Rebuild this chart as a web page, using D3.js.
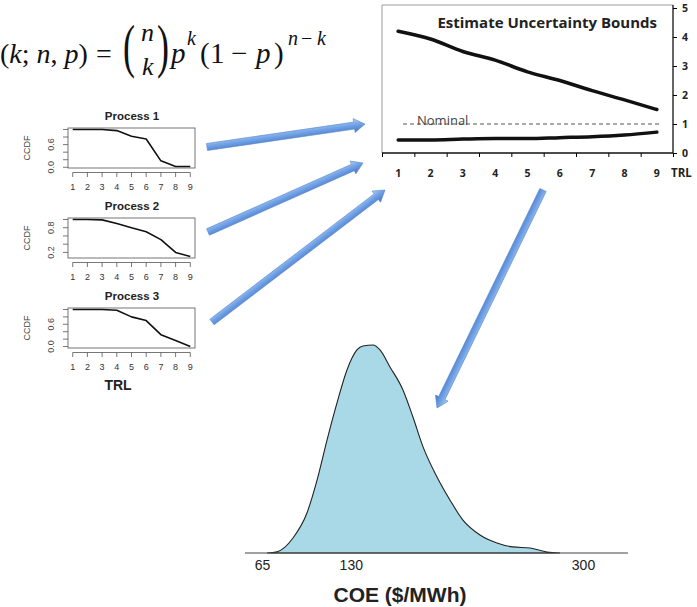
<!DOCTYPE html>
<html>
<head>
<meta charset="utf-8">
<script src="https://cdn.jsdelivr.net/npm/d3@7"></script>
<style>
  body { margin: 0; background: #fff; }
  svg { display: block; }
</style>
</head>
<body>
<svg id="fig" width="697" height="607"></svg>
<script>
// ---- data ----
var trl = [1, 2, 3, 4, 5, 6, 7, 8, 9];

var processNames = ["Process 1", "Process 2", "Process 3"];
var process1 = [1.0, 1.0, 1.0, 0.97, 0.82, 0.75, 0.17, 0.02, 0.02];
var process2 = [1.0, 1.0, 0.99, 0.90, 0.80, 0.70, 0.51, 0.20, 0.10];
var process3 = [1.0, 1.0, 1.0, 0.98, 0.80, 0.70, 0.32, 0.16, 0.0];
var ccdfLabels = [[0, 0.6], [0.2, 0.8], [0, 0.6]];

var upperBound = [4.2, 3.93, 3.5, 3.2, 2.8, 2.5, 2.15, 1.83, 1.5];
var lowerBound = [0.45, 0.45, 0.48, 0.5, 0.5, 0.53, 0.56, 0.62, 0.72];
var nominal = 1;
var boundTicks = [0, 1, 2, 3, 4, 5];

var coe = [68.7, 76, 87.7, 97.9, 105.3, 112.6, 119.9, 127.2, 134.5, 138.9, 146.3, 151.4,
           158.7, 168.2, 175.5, 182.9, 193.1, 202.6, 212.1, 224.6, 237, 248.7, 261.2, 273.6, 283.2];
var density = [0, 0.00008, 0.00094, 0.00250, 0.00456, 0.00706, 0.00938, 0.01144, 0.01269, 0.01294,
               0.01300, 0.01269, 0.01163, 0.01019, 0.00850, 0.00663, 0.00475, 0.00331, 0.00206,
               0.00113, 0.00063, 0.00038, 0.00031, 0.00006, 0];
var coeTicks = [65, 130, 300];

var svg = d3.select("#fig");
var sans = "'Liberation Sans', Arial, sans-serif";
var calibri = "'Open Sans', Lato, sans-serif";

// ---- arrow gradient ----
var grad = svg.append("defs").append("linearGradient")
    .attr("id", "arrowGrad")
    .attr("x1", 0).attr("y1", 0).attr("x2", 0).attr("y2", 1);
grad.append("stop").attr("offset", 0).attr("stop-color", "#b3d0f5");
grad.append("stop").attr("offset", 0.45).attr("stop-color", "#72a3e6");
grad.append("stop").attr("offset", 1).attr("stop-color", "#4575c4");

// ---- binomial formula ----
var eq = svg.append("g")
    .attr("font-family", "'Liberation Serif', 'Times New Roman', serif")
    .attr("fill", "#111");

function piece(txt, x, y, size, italic) {
    eq.append("text").attr("x", x).attr("y", y).attr("font-size", size)
        .attr("font-style", italic ? "italic" : "normal").text(txt);
}

var lhs = eq.append("text").attr("x", 0).attr("y", 63).attr("font-size", 28);
[["(", 0], ["k", 1], ["; ", 0], ["n", 1], [", ", 0], ["p", 1], [")", 0]].forEach(function(p) {
    lhs.append("tspan").attr("font-style", p[1] ? "italic" : "normal").text(p[0]);
});
piece("=", 96, 63, 28, false);

eq.append("text").attr("transform", "translate(123,66) scale(0.6,1)").attr("font-size", 60).text("(");
eq.append("text").attr("transform", "translate(157,66) scale(0.6,1)").attr("font-size", 60).text(")");
piece("n", 141, 41, 26, true);
piece("k", 142, 75, 26, true);

piece("p", 171, 63, 29, true);
piece("k", 187, 45, 20, true);

piece("(", 200, 63, 29, false);
piece("1", 210, 63, 29, false);
piece("\u2212", 231, 63, 29, false);
piece("p", 256, 63, 29, true);
piece(")", 274, 63, 29, false);

piece("n", 288, 45, 20, true);
piece("\u2212", 301, 45, 20, false);
piece("k", 317, 45, 20, true);

// ---- small CCDF panels ----
var series = [process1, process2, process3];
var panelLeft = 68, panelRight = 195, panelH = 40;

series.forEach(function(vals, i) {
    var top = 128 + i * 90, bottom = top + panelH;
    var g = svg.append("g").attr("font-family", sans).attr("fill", "#222");

    var x = d3.scaleLinear().domain([1 - 0.32, 9 + 0.32]).range([panelLeft, panelRight]);
    var lo = d3.min(vals), hi = d3.max(vals), pad = (hi - lo) * 0.04;
    var y = d3.scaleLinear().domain([lo - pad, hi + pad]).range([bottom, top]);

    g.append("text")
        .attr("x", 132).attr("y", top - 8)
        .attr("text-anchor", "middle")
        .attr("font-size", 11.5).attr("font-weight", "bold")
        .text(processNames[i]);

    g.append("rect")
        .attr("x", panelLeft).attr("y", top)
        .attr("width", panelRight - panelLeft).attr("height", panelH)
        .attr("fill", "none").attr("stroke", "#666").attr("stroke-width", 0.9);

    // y ticks every 0.2, labels only where R kept them
    var yt = d3.range(0, 1.001, 0.2).filter(function(v) { return v >= y.domain()[0] && v <= y.domain()[1]; });
    g.selectAll("line.ytick").data(yt).enter().append("line")
        .attr("x1", panelLeft - 5).attr("x2", panelLeft)
        .attr("y1", function(d) { return y(d); }).attr("y2", function(d) { return y(d); })
        .attr("stroke", "#555").attr("stroke-width", 0.8);
    g.selectAll("text.ylab").data(ccdfLabels[i]).enter().append("text")
        .attr("transform", function(d) { return "translate(54," + y(d) + ") rotate(-90)"; })
        .attr("text-anchor", "middle").attr("font-size", 9).attr("fill", "#444")
        .text(function(d) { return d3.format(".1f")(d); });

    g.append("text")
        .attr("transform", "translate(30," + (top + panelH / 2) + ") rotate(-90)")
        .attr("text-anchor", "middle").attr("font-size", 9).attr("fill", "#444")
        .text("CCDF");

    // x axis sits a little below the box
    var ay = bottom + 4.5;
    g.append("line").attr("x1", x(1)).attr("x2", x(9)).attr("y1", ay).attr("y2", ay)
        .attr("stroke", "#555").attr("stroke-width", 0.8);
    g.selectAll("line.xtick").data(trl).enter().append("line")
        .attr("x1", function(d) { return x(d); }).attr("x2", function(d) { return x(d); })
        .attr("y1", ay).attr("y2", ay + 4.5)
        .attr("stroke", "#555").attr("stroke-width", 0.8);
    g.selectAll("text.xlab").data(trl).enter().append("text")
        .attr("x", function(d) { return x(d); }).attr("y", bottom + 22)
        .attr("text-anchor", "middle").attr("font-size", 9).attr("fill", "#333")
        .text(function(d) { return d; });

    g.append("path")
        .datum(vals)
        .attr("fill", "none").attr("stroke", "#111").attr("stroke-width", 1.6)
        .attr("stroke-linejoin", "round")
        .attr("d", d3.line().x(function(d, j) { return x(trl[j]); }).y(function(d) { return y(d); }));
});

svg.append("text")
    .attr("x", 118).attr("y", 390)
    .attr("text-anchor", "middle")
    .attr("font-family", sans).attr("font-size", 14).attr("font-weight", "bold").attr("fill", "#222")
    .text("TRL");

// ---- uncertainty bounds panel ----
var ub = svg.append("g").attr("font-family", calibri);
var bx = d3.scaleLinear().domain([0.5, 9.5]).range([382, 673]);
var by = d3.scaleLinear().domain([0, 5]).range([153, 8]);

ub.append("path")
    .attr("d", "M673,5H382V153")
    .attr("fill", "none").attr("stroke", "#9a9a9a").attr("stroke-width", 1);

var rightAxis = ub.append("g").attr("transform", "translate(673,0)")
    .call(d3.axisRight(by).tickValues(boundTicks).tickFormat(d3.format("d")).tickSize(4).tickPadding(5));
rightAxis.select(".domain").attr("d", "M0,5V153").attr("stroke", "#111").attr("stroke-width", 1.3);
rightAxis.selectAll("text").attr("font-family", calibri).attr("font-size", 10.5)
    .attr("font-weight", "bold").attr("fill", "#222");

var bottomAxis = ub.append("g").attr("transform", "translate(0,153)")
    .call(d3.axisBottom(bx).tickValues(d3.range(0.5, 9.6, 1)).tickSize(4).tickFormat(""));
bottomAxis.select(".domain").attr("d", "M382,0H673").attr("stroke", "#111").attr("stroke-width", 1.3);

ub.selectAll("text.trl").data(trl).enter().append("text")
    .attr("x", function(d) { return bx(d); }).attr("y", 177)
    .attr("text-anchor", "middle").attr("font-size", 10.5).attr("font-weight", "bold").attr("fill", "#222")
    .text(function(d) { return d; });
ub.append("text").attr("x", 671).attr("y", 177)
    .attr("font-size", 11.5).attr("font-weight", "bold").attr("fill", "#222").text("TRL");

ub.append("text")
    .attr("x", 657).attr("y", 28).attr("text-anchor", "end")
    .attr("font-size", 15).attr("font-weight", "bold").attr("fill", "#222")
    .text("Estimate Uncertainty Bounds");

ub.append("line")
    .attr("x1", bx(1.15)).attr("x2", bx(9.1))
    .attr("y1", by(nominal)).attr("y2", by(nominal))
    .attr("stroke", "#555").attr("stroke-width", 1).attr("stroke-dasharray", "4,3");
ub.append("text")
    .attr("x", 417).attr("y", by(nominal) + 1)
    .attr("font-size", 13).attr("fill", "#444").text("Nominal");

var boundLine = d3.line()
    .x(function(d, j) { return bx(trl[j]); })
    .y(function(d) { return by(d); })
    .curve(d3.curveMonotoneX);
[upperBound, lowerBound].forEach(function(s) {
    ub.append("path").datum(s)
        .attr("fill", "none").attr("stroke", "#111").attr("stroke-width", 3.5)
        .attr("stroke-linecap", "round")
        .attr("d", boundLine);
});

// ---- COE density ----
var cx = d3.scaleLinear().domain([65, 300]).range([262, 583]);
var cy = d3.scaleLinear().domain([0, 0.013]).range([553, 345]);
var pts = coe.map(function(c, j) { return [c, density[j]]; });

svg.append("path").datum(pts)
    .attr("fill", "#a9d8e6")
    .attr("stroke", "#222").attr("stroke-width", 1.1)
    .attr("d", d3.area()
        .x(function(d) { return cx(d[0]); })
        .y0(cy(0))
        .y1(function(d) { return cy(d[1]); })
        .curve(d3.curveMonotoneX));

svg.append("line")
    .attr("x1", 245).attr("x2", 628)
    .attr("y1", cy(0)).attr("y2", cy(0))
    .attr("stroke", "#444").attr("stroke-width", 1.2);

var coeAxis = svg.append("g").attr("transform", "translate(0," + cy(0) + ")")
    .call(d3.axisBottom(cx).tickValues(coeTicks).tickSize(0).tickPadding(7));
coeAxis.select(".domain").remove();
coeAxis.selectAll("text").attr("font-family", sans).attr("font-size", 14).attr("fill", "#222");

svg.append("text")
    .attr("x", 400).attr("y", 602).attr("text-anchor", "middle")
    .attr("font-family", sans).attr("font-size", 21).attr("font-weight", "bold").attr("fill", "#222")
    .text("COE ($/MWh)");

// ---- blue arrows ----
var arrows = [
    [207, 147, 365, 124],
    [208, 232, 363, 163],
    [212, 322, 385, 190],
    [543, 190, 437, 408]
];
arrows.forEach(function(a) {
    var dx = a[2] - a[0], dy = a[3] - a[1];
    var len = Math.sqrt(dx * dx + dy * dy);
    var ang = Math.atan2(dy, dx) * 180 / Math.PI;
    var hw = 3.5, hh = 7, hl = 11;
    var shape = [[0, -hw], [len - hl, -hw], [len - hl, -hh], [len, 0], [len - hl, hh], [len - hl, hw], [0, hw]];
    svg.append("path")
        .attr("transform", "translate(" + a[0] + "," + a[1] + ") rotate(" + ang + ")")
        .attr("d", d3.line()(shape) + "Z")
        .attr("fill", "url(#arrowGrad)")
        .attr("stroke", "#5a89cf").attr("stroke-width", 0.6);
});
</script>
</body>
</html>
